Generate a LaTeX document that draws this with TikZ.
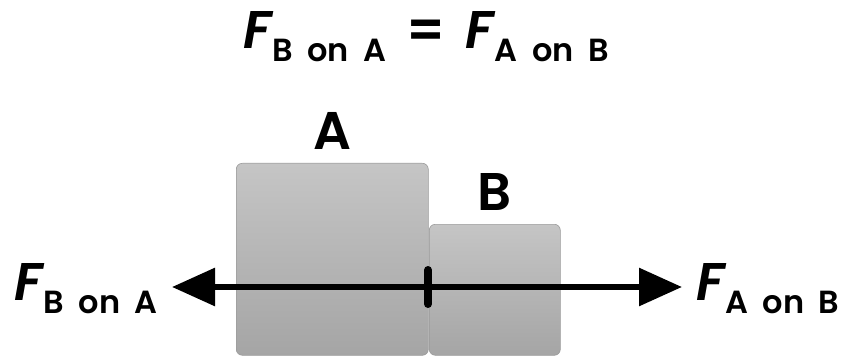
\documentclass[tikz,border=0pt]{standalone}
\usepackage{fontspec}
\setmainfont{Poppins}[BoldFont={Poppins SemiBold}, BoldItalicFont={Poppins SemiBold Italic}, WordSpace=1.9]
\usetikzlibrary{arrows.meta,positioning}

\definecolor{blocktop}{RGB}{197,197,197}
\definecolor{blockbot}{RGB}{165,165,165}
\definecolor{blockedge}{RGB}{155,155,155}

\newcommand{\forceF}{{\fontsize{53}{53}\selectfont\bfseries\itshape F}}
\newcommand{\forcesub}[1]{\hspace{1pt}\raisebox{-13pt}{\fontsize{32}{32}\selectfont\bfseries #1}}

\tikzset{
  block/.style={rectangle, rounded corners=6pt, top color=blocktop,
    bottom color=blockbot, draw=blockedge, line width=0.6pt, inner sep=0pt},
  blocklabel/.style={font=\fontsize{53}{53}\selectfont\bfseries, inner sep=0pt},
  forcelabel/.style={inner sep=0pt},
  force/.style={line width=6pt, -{Triangle[length=43pt,width=37pt]}},
  contacttick/.style={line width=8pt, line cap=round},
}

\begin{document}
\begin{tikzpicture}[x=1pt,y=-1pt]
    \useasboundingbox (0,0) rectangle (851,358);
    % title
    \node[forcelabel, anchor=base] (law) at (426,49)
      {\forceF\forcesub{B on A}\hspace{20pt}{\fontsize{53}{53}\selectfont\bfseries =}\hspace{20pt}\forceF\forcesub{A on B}};
    % the two blocks
    \node[block, minimum width=192pt, minimum height=192pt, anchor=north west] (blockA) at (236,163) {};
    \node[block, minimum width=131pt, minimum height=131pt, anchor=north west] (blockB) at (429,224) {};
    \node[blocklabel, above=13pt of blockA] (labelA) {A};
    \node[blocklabel, above=13pt of blockB] (labelB) {B};
    % forces
    \coordinate (contact) at (428,287);
    \coordinate (tipL) at (172,287);
    \coordinate (tipR) at (682,287);
    \draw[force] (contact) -- (tipL);
    \draw[force] (contact) -- (tipR);
    \draw[contacttick] (contact) ++(0,-17) -- ++(0,34);
    \node[forcelabel, anchor=base east] (forceBA) at (158,300) {\forceF\forcesub{B on A}};
    \node[forcelabel, anchor=base west] (forceAB) at (696,300) {\forceF\forcesub{A on B}};
\end{tikzpicture}
\end{document}
